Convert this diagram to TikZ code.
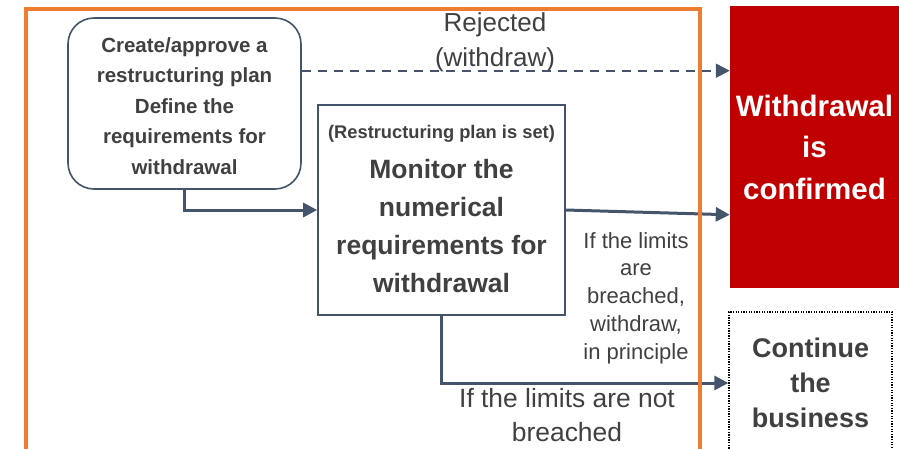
\documentclass[tikz,border=0pt]{standalone}
\usepackage{fontspec}
\setmainfont{Liberation Sans}
\usepackage{tikz}
\usetikzlibrary{arrows.meta,calc}
\usepackage{xcolor}
\definecolor{slate}{HTML}{44546A}
\definecolor{txtgray}{HTML}{404040}
\definecolor{frameorange}{HTML}{ED7D31}
\definecolor{alertred}{HTML}{C00000}

\begin{document}
\begin{tikzpicture}[x=1pt,y=-1pt,line cap=butt,
  >={Triangle[length=14pt,width=14pt]},
  box/.style={draw=slate,line width=1.6pt,fill=white,inner sep=0pt},
  flow/.style={->,slate,line width=3pt},
  boxtext/.style={text=txtgray,align=center,font=\bfseries}]
\useasboundingbox (0,0) rectangle (899,448);
\node[box,rounded corners=26pt,minimum width=233pt,minimum height=171pt] (plan) at (184.5,103.5) {};
\node[boxtext,font=\fontsize{20.5}{30.5}\selectfont\bfseries] (plantext) at (184.5,106)
  {Create/approve a\\restructuring plan\\Define the\\requirements for\\withdrawal};
\node[box,minimum width=247pt,minimum height=210pt] (mon) at (441.5,210) {};
\node[boxtext,font=\fontsize{18.3}{20}\selectfont\bfseries] (monhead) at (441.5,134)
  {(Restructuring plan is set)};
\node[boxtext,font=\fontsize{26.5}{38.3}\selectfont\bfseries] (montext) at (441.5,226)
  {Monitor the\\numerical\\requirements for\\withdrawal};
\node[fill=alertred,minimum width=169pt,minimum height=282pt,inner sep=0pt,
  text=white,align=center,font=\fontsize{29.5}{41.5}\selectfont\bfseries] (confirm) at (814.5,147)
  {Withdrawal\\is\\confirmed};
\node[draw=black,line width=1.3pt,dash pattern=on 1.3pt off 1.3pt,
  minimum width=163pt,minimum height=142pt,inner sep=0pt,boxtext,
  font=\fontsize{27}{35}\selectfont\bfseries] (keep) at (810.5,383)
  {Continue\\the\\business};
\node[text=txtgray,align=center,font=\fontsize{26}{35}\selectfont] (rejlbl) at (495,42)
  {Rejected\\(withdraw)};
\node[text=txtgray,align=center,font=\fontsize{22}{27.8}\selectfont] (breachlbl) at (636,298)
  {If the limits\\are\\breached,\\withdraw,\\in principle};
\node[text=txtgray,align=center,font=\fontsize{26.4}{34}\selectfont] (okaylbl) at (567,415)
  {If the limits are not\\breached};
\coordinate (rejpt) at ($(plan.north east)!0.31!(plan.south east)$);
\coordinate (hitpt) at ($(confirm.north west)!0.74!(confirm.south west)$);
\draw[flow,line width=2pt,dash pattern=on 9pt off 7pt] (rejpt) -- (rejpt -| confirm.west);
\draw[flow] (plan.south) |- (mon.west);
\draw[flow] (mon.east) -- (hitpt);
\draw[flow] (mon.south) |- (keep.west);
\draw[frameorange,line width=4pt] (26,9) rectangle (700,470);
\end{tikzpicture}
\end{document}
